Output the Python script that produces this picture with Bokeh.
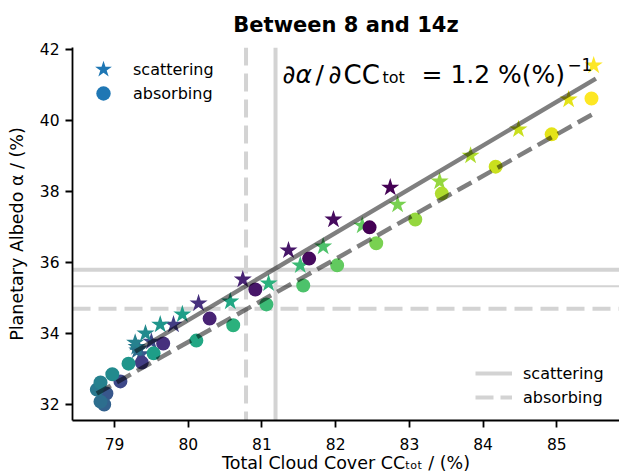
import math
from bokeh.plotting import figure
from bokeh.models import (ColumnDataSource, Span, Label, Legend, LegendItem,
                          FixedTicker, Range1d)
from bokeh.palettes import Viridis256
from bokeh.transform import linear_cmap
from bokeh.embed import file_html
from bokeh.resources import INLINE

# ---------------- data ----------------
# scattering experiment (stars)
scat_cc = [82.74, 81.97, 81.36, 80.74, 80.14, 79.80, 79.50, 79.36, 79.33,
           79.31, 79.30, 79.28, 79.42, 79.62, 79.92, 80.57, 81.09, 81.52,
           81.83, 82.36, 82.84, 83.41, 83.83, 84.48, 85.16, 85.50]
scat_alb = [38.11, 37.21, 36.34, 35.52, 34.85, 34.25, 33.77, 33.42, 33.58,
            33.52, 33.62, 33.74, 34.00, 34.25, 34.54, 34.90, 35.41, 35.92,
            36.45, 37.04, 37.63, 38.28, 39.01, 39.75, 40.59, 41.55]
scat_col = [0.00, 0.03, 0.06, 0.10, 0.14, 0.18, 0.22, 0.27, 0.31,
            0.36, 0.40, 0.44, 0.48, 0.52, 0.56, 0.60, 0.64, 0.68,
            0.72, 0.76, 0.80, 0.84, 0.88, 0.92, 0.96, 1.00]

# absorbing experiment (circles)
abs_cc = [82.46, 81.64, 80.91, 80.29, 79.66, 79.37, 79.08, 78.89, 78.86,
          78.81, 78.76, 78.81, 78.97, 79.19, 79.53, 80.11, 80.61, 81.06,
          81.56, 82.02, 82.55, 83.08, 83.44, 84.17, 84.93, 85.47]
abs_alb = [36.99, 36.11, 35.24, 34.42, 33.72, 33.18, 32.65, 32.31, 32.00,
           32.08, 32.42, 32.62, 32.85, 33.15, 33.44, 33.80, 34.23, 34.82,
           35.35, 35.92, 36.54, 37.21, 37.94, 38.70, 39.61, 40.62]
abs_col = [0.00, 0.03, 0.06, 0.10, 0.14, 0.18, 0.22, 0.27, 0.31,
           0.36, 0.40, 0.44, 0.48, 0.52, 0.56, 0.60, 0.64, 0.68,
           0.72, 0.76, 0.80, 0.84, 0.88, 0.92, 0.96, 1.00]

# linear fits (end points)
scat_fit_x = [79.28, 85.53]
scat_fit_y = [33.49, 41.18]
abs_fit_x = [78.76, 85.53]
abs_fit_y = [32.31, 40.23]

# reference (mean) lines
cc_ref_scat = 81.184
cc_ref_abs = 80.784
alb_ref_scat = 35.794
alb_ref_mid = 35.332
alb_ref_abs = 34.70

x_ticks = [79, 80, 81, 82, 83, 84, 85]
y_ticks = [32, 34, 36, 38, 40, 42]

title_text = "Between 8 and 14z"
x_label = "Total Cloud Cover CC\u209c\u2092\u209c / (%)"
y_label = "Planetary Albedo α / (%)"
slope_value = "1.2"

# ---------------- figure ----------------
FONT = "DejaVu Sans"
LGREY = "#d3d3d3"
NAN = float("nan")

p = figure(width=619, height=475, output_backend="svg", toolbar_location=None,
           x_range=Range1d(78.43, 85.85), y_range=Range1d(31.549, 42.056),
           min_border_left=72, min_border_right=0, min_border_top=47,
           min_border_bottom=55)
p.outline_line_color = None
p.grid.visible = False
p.background_fill_color = "white"
p.border_fill_color = "white"

p.title.text = title_text
p.title.align = "center"
p.title.text_font = FONT
p.title.text_font_size = "21px"
p.title.text_font_style = "bold"
p.title.text_color = "black"
p.title.standoff = 21

for ax in (p.xaxis[0], p.yaxis[0]):
    ax.axis_line_width = 1.8
    ax.axis_line_color = "black"
    ax.major_tick_line_width = 1.8
    ax.major_tick_line_color = "black"
    ax.major_tick_out = 7
    ax.major_tick_in = 0
    ax.minor_tick_line_color = None
    ax.major_label_text_font = FONT
    ax.major_label_text_font_size = "15.5px"
    ax.major_label_text_color = "black"
    ax.axis_label_text_font = FONT
    ax.axis_label_text_font_size = "17.5px"
    ax.axis_label_text_font_style = "normal"
    ax.axis_label_text_color = "black"
p.xaxis.ticker = FixedTicker(ticks=x_ticks)
p.yaxis.ticker = FixedTicker(ticks=y_ticks)
p.xaxis.major_label_standoff = 10
p.yaxis.major_label_standoff = 6
p.xaxis.axis_label = x_label
p.yaxis.axis_label = y_label
p.xaxis.axis_label_standoff = 0
p.yaxis.axis_label_standoff = 10

# reference lines
p.add_layout(Span(location=cc_ref_scat, dimension="height", line_color=LGREY,
                  line_width=4, level="underlay"))
p.add_layout(Span(location=cc_ref_abs, dimension="height", line_color=LGREY,
                  line_width=4, line_dash="18 8", level="underlay"))
p.add_layout(Span(location=alb_ref_scat, dimension="width", line_color=LGREY,
                  line_width=4, level="underlay"))
p.add_layout(Span(location=alb_ref_mid, dimension="width", line_color=LGREY,
                  line_width=2, level="underlay"))
p.add_layout(Span(location=alb_ref_abs, dimension="width", line_color=LGREY,
                  line_width=4, line_dash="18 8", level="underlay"))

# points
src_s = ColumnDataSource(dict(x=scat_cc, y=scat_alb, c=scat_col))
src_a = ColumnDataSource(dict(x=abs_cc, y=abs_alb, c=abs_col))
cmap = linear_cmap("c", Viridis256, 0, 1)
p.scatter("x", "y", source=src_s, marker="star", size=19,
          fill_color=cmap, line_color=None)
p.scatter("x", "y", source=src_a, marker="circle", size=14,
          fill_color=cmap, line_color=None)

# fits
p.line(scat_fit_x, scat_fit_y, line_color="black", line_alpha=0.5, line_width=4.5)
p.line(abs_fit_x, abs_fit_y, line_color="black", line_alpha=0.5, line_width=4.5,
       line_dash="16 7")

# legend renderers (not visible in the plot area: NaN positions)
leg_star = p.scatter(x=[NAN], y=[NAN], marker="star", size=19,
                     fill_color="#1f77b4", line_color=None)
leg_circ = p.scatter(x=[NAN], y=[NAN], marker="circle", size=14,
                     fill_color="#1f77b4", line_color=None)
leg_l1 = p.line(x=[NAN, NAN], y=[NAN, NAN], line_color=LGREY, line_width=4)
leg_l2 = p.line(x=[NAN, NAN], y=[NAN, NAN], line_color=LGREY, line_width=4,
                line_dash="18 7")


def mk_legend(items, loc, gw, gh, standoff):
    lg = Legend(items=items, location=loc, glyph_width=gw, glyph_height=gh,
                label_standoff=standoff, padding=0, spacing=0, margin=0,
                background_fill_alpha=0, border_line_color=None,
                label_text_font=FONT, label_text_font_size="16px",
                label_text_color="black")
    p.add_layout(lg)


mk_legend([LegendItem(label="scattering", renderers=[leg_star])], (9, 329), 44, 44, 8)
mk_legend([LegendItem(label="absorbing", renderers=[leg_circ])], (13, 309), 36, 36, 12)
mk_legend([LegendItem(label="scattering", renderers=[leg_l1]),
           LegendItem(label="absorbing", renderers=[leg_l2])], (403, 11), 37, 24, 11)


def lab(text, x, y, size, **kw):
    p.add_layout(Label(text=text, x=x, y=y, x_units="screen", y_units="screen",
                       text_font=FONT, text_font_size=size, text_color="black",
                       text_baseline="alphabetic", **kw))


# annotation (slope)
lab("∂α", 210, 346, "25px", text_font_style="italic")
lab("/", 243, 346, "25px")
lab("∂", 256, 346, "25px")
lab("CC", 271, 346, "26px")
lab("tot", 310, 343, "16px")
lab("= " + slope_value + " %(%)", 349, 346, "25px")
lab("−1", 495, 356, "16.8px")

open("out.html", "w").write(file_html(p, INLINE))
